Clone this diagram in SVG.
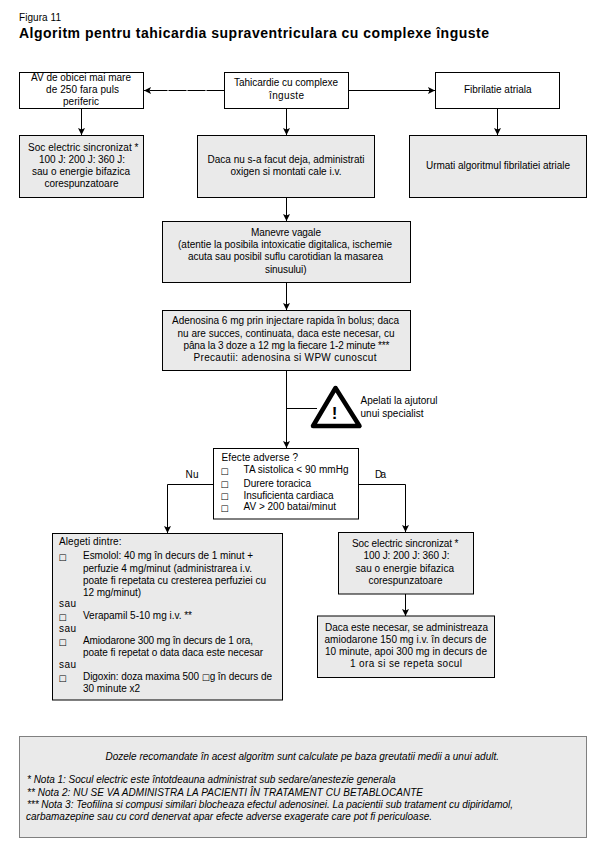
<svg xmlns="http://www.w3.org/2000/svg" width="605" height="854" viewBox="0 0 605 854">
<style>
text{font-family:"Liberation Sans",Arial,sans-serif;font-size:10px;fill:#000;white-space:pre}
.t{font-weight:bold;font-size:14px}
.i{font-style:italic}
.w{fill:#fff;stroke:#000;stroke-width:1}
.g{fill:#eaeaea;stroke:#000;stroke-width:1}
.n{fill:#eaeaea;stroke:#808080;stroke-width:1}
.c{fill:none;stroke:#000;stroke-width:1}
.a{marker-end:url(#ah)}
.b{font-family:"DejaVu Sans",sans-serif;font-size:8.5px}
</style>
<defs><marker id="ah" markerUnits="userSpaceOnUse" markerWidth="8" markerHeight="8" refX="7" refY="4" orient="auto"><path d="M0 0.5L7 4L0 7.5L1.5 4Z" fill="#000"/></marker></defs>
<rect width="605" height="854" fill="#fff"/>
<g id="title">
<text x="19" y="21" textLength="42">Figura 11</text>
<text class="t" x="19" y="37.5" textLength="470">Algoritm pentru tahicardia supraventriculara cu complexe înguste</text>
</g>
<g id="connectors">
<path class="c a" d="M224.5 90.5H144" stroke-dasharray="18 1"/>
<path class="c a" d="M348.5 90.5H435"/>
<path class="c a" d="M81.5 108.5V135"/>
<path class="c a" d="M286.5 108.5V135"/>
<path class="c a" d="M497.5 108.5V135"/>
<path class="c a" d="M286.5 197.5V221"/>
<path class="c a" d="M286.5 282.5V310"/>
<path class="c a" d="M286.5 370.5V448"/>
<path class="c" d="M287 408.5H317"/>
<path class="c a" d="M213.5 484.5H167.5V533"/>
<path class="c a" d="M358.5 484.5H405.5V532"/>
<path class="c a" d="M405.5 594V616"/>
</g>
<g id="n-av"><rect class="w" x="19.5" y="72.5" width="124" height="36"/>
<text x="31" y="81" textLength="100">AV de obicei mai mare</text>
<text x="46" y="93" textLength="73">de 250 fara puls</text>
<text x="63" y="105" textLength="36">periferic</text></g>
<g id="n-tahi"><rect class="w" x="224.5" y="72.5" width="124" height="36"/>
<text x="234" y="86" textLength="104">Tahicardie cu complexe</text>
<text x="269" y="99" textLength="35">înguste</text></g>
<g id="n-fib"><rect class="w" x="435.5" y="72.5" width="124" height="36"/>
<text x="464" y="93" textLength="67.5">Fibrilatie atriala</text></g>
<g id="n-soc"><rect class="g" x="19.5" y="135.5" width="124" height="62"/>
<text x="28" y="151" textLength="110.5">Soc electric sincronizat *</text>
<text x="39" y="163" textLength="86">100 J: 200 J: 360 J:</text>
<text x="32" y="175" textLength="98">sau o energie bifazica</text>
<text x="44.5" y="187" textLength="74">corespunzatoare</text></g>
<g id="n-daca"><rect class="g" x="197.5" y="135.5" width="177" height="62"/>
<text x="207.5" y="163" textLength="157">Daca nu s-a facut deja, administrati</text>
<text x="230.5" y="175" textLength="111">oxigen si montati cale i.v.</text></g>
<g id="n-urmati"><rect class="g" x="409.5" y="135.5" width="177" height="62"/>
<text x="426" y="169" textLength="144">Urmati algoritmul fibrilatiei atriale</text></g>
<g id="n-manevre"><rect class="g" x="162.5" y="221.5" width="248" height="61"/>
<text x="251" y="236" textLength="70">Manevre vagale</text>
<text x="178" y="248" textLength="214">(atentie la posibila intoxicatie digitalica, ischemie</text>
<text x="188" y="260" textLength="195">acuta sau posibil suflu carotidian la masarea</text>
<text x="265" y="273" textLength="41.5">sinusului)</text></g>
<g id="n-adeno"><rect class="g" x="162.5" y="310.5" width="248" height="60"/>
<text x="172" y="324" textLength="227">Adenosina 6 mg prin injectare rapida în bolus; daca</text>
<text x="177.5" y="337" textLength="217">nu are succes, continuata, daca este necesar, cu</text>
<text x="183.5" y="349" textLength="206">pâna la 3 doze a 12 mg la fiecare 1-2 minute ***</text>
<text x="193.5" y="361" textLength="183">Precautii: adenosina si WPW cunoscut</text></g>
<g id="n-warning">
<path d="M335.5 388L359.5 426H313Z" fill="#fff" stroke="#000" stroke-width="4.5" stroke-linejoin="round"/>
<text x="334.5" y="419" text-anchor="middle" style="font-size:17px;font-weight:bold">!</text>
<text x="360.5" y="404" textLength="77">Apelati la ajutorul</text>
<text x="360.5" y="417" textLength="63">unui specialist</text></g>
<g id="n-efecte"><rect class="w" x="213.5" y="448.5" width="145" height="70.5"/>
<text x="221.5" y="461" textLength="76.5">Efecte adverse ?</text>
<text class="b" x="220.5" y="473.5">□</text><text x="243.5" y="473" textLength="105">TA sistolica &lt; 90 mmHg</text>
<text class="b" x="220.5" y="486.5">□</text><text x="243.5" y="487" textLength="67.5">Durere toracica</text>
<text class="b" x="220.5" y="498.5">□</text><text x="243.5" y="499" textLength="90">Insuficienta cardiaca</text>
<text class="b" x="220.5" y="510.5">□</text><text x="243.5" y="510" textLength="92.5">AV &gt; 200 batai/minut</text></g>
<g id="labels">
<text x="185.5" y="478" textLength="13">Nu</text>
<text x="375" y="478" textLength="11">Da</text></g>
<g id="n-alegeti"><rect class="g" x="52.5" y="533.5" width="230" height="166.5"/>
<text x="59" y="545" textLength="62.5">Alegeti dintre:</text>
<text class="b" x="58.5" y="559.5">□</text><text x="83" y="559" textLength="170">Esmolol: 40 mg în decurs de 1 minut +</text>
<text x="83" y="572" textLength="169">perfuzie 4 mg/minut (administrarea i.v.</text>
<text x="83" y="584" textLength="183">poate fi repetata cu cresterea perfuziei cu</text>
<text x="83" y="596" textLength="58">12 mg/minut)</text>
<text x="59" y="607" textLength="17">sau</text>
<text class="b" x="58.5" y="619.5">□</text><text x="83" y="619" textLength="109">Verapamil 5-10 mg i.v. **</text>
<text x="59" y="632" textLength="17">sau</text>
<text class="b" x="58.5" y="644.5">□</text><text x="83" y="644" textLength="170">Amiodarone 300 mg în decurs de 1 ora,</text>
<text x="83" y="656" textLength="180">poate fi repetat o data daca este necesar</text>
<text x="59" y="668" textLength="17">sau</text>
<text class="b" x="58.5" y="680.5">□</text><text x="83" y="680" textLength="189">Digoxin: doza maxima 500 <tspan class="b">□</tspan>g în decurs de</text>
<text x="83" y="692" textLength="57">30 minute x2</text></g>
<g id="n-soc2"><rect class="g" x="338.5" y="532.5" width="135" height="61.5"/>
<text x="352" y="547" textLength="106.5">Soc electric sincronizat *</text>
<text x="363.5" y="559" textLength="86">100 J: 200 J: 360 J:</text>
<text x="355.5" y="572" textLength="98.5">sau o energie bifazica</text>
<text x="368.5" y="584" textLength="74">corespunzatoare</text></g>
<g id="n-daca2"><rect class="g" x="317.5" y="616" width="177" height="61.5"/>
<text x="325" y="631" textLength="163">Daca este necesar, se administreaza</text>
<text x="324.5" y="643" textLength="162">amiodarone 150 mg i.v. în decurs de</text>
<text x="325" y="655" textLength="162">10 minute, apoi 300 mg in decurs de</text>
<text x="350" y="667" textLength="112">1 ora si se repeta socul</text></g>
<g id="n-note"><rect class="n" x="19.5" y="736.5" width="567" height="101"/>
<text class="i" x="105.5" y="760" textLength="393.5">Dozele recomandate în acest algoritm sunt calculate pe baza greutatii medii a unui adult.</text>
<text class="i" x="27" y="783" textLength="368.5">* Nota 1: Socul electric este întotdeauna administrat sub sedare/anestezie generala</text>
<text class="i" x="27" y="796" textLength="396">** Nota 2: NU SE VA ADMINISTRA LA PACIENTI ÎN TRATAMENT CU BETABLOCANTE</text>
<text class="i" x="27" y="808" textLength="486">*** Nota 3: Teofilina si compusi similari blocheaza efectul adenosinei. La pacientii sub tratament cu dipiridamol,</text>
<text class="i" x="26" y="820" textLength="406">carbamazepine sau cu cord denervat apar efecte adverse exagerate care pot fi periculoase.</text></g>
</svg>
